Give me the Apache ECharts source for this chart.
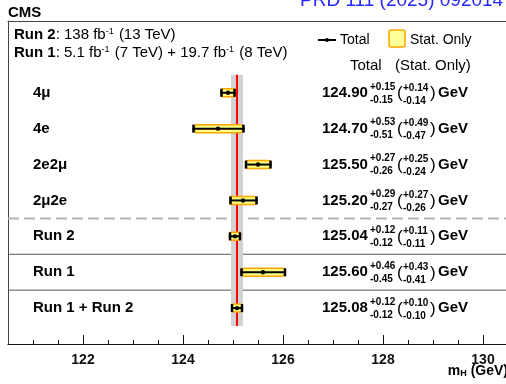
<!DOCTYPE html>
<html>
<head>
<meta charset="utf-8">
<script src="https://cdn.jsdelivr.net/npm/echarts@6/dist/echarts.min.js"></script>
<style>
  html, body { margin: 0; padding: 0; background: #fff; }
  #chart { width: 506px; height: 384px; }
</style>
</head>
<body>
<div id="chart"></div>
<script>
// Higgs boson mass measurements in the H -> ZZ -> 4l channel
const categories = ['4\u03bc', '4e', '2e2\u03bc', '2\u03bc2e', 'Run 2', 'Run 1', 'Run 1 + Run 2'];
const rowPos     = [7, 6, 5, 4, 3, 2, 1];
const central    = [124.90, 124.70, 125.50, 125.20, 125.04, 125.60, 125.08];
const totalUp    = [0.15, 0.53, 0.27, 0.29, 0.12, 0.46, 0.12];
const totalDown  = [0.15, 0.51, 0.26, 0.27, 0.12, 0.45, 0.12];
const statUp     = [0.14, 0.49, 0.25, 0.27, 0.11, 0.43, 0.10];
const statDown   = [0.14, 0.47, 0.24, 0.26, 0.11, 0.41, 0.10];
// row boundaries (index of the first row below the line): dashed after the
// channels, solid between the run summaries
const separatorRows  = [4, 5, 6];
const separatorKinds = ['dashed', 'solid', 'solid'];
const majorTicks = [122, 124, 126, 128, 130];
const minorTicks = [121, 121.5, 122, 122.5, 123, 123.5, 124, 124.5, 125, 125.5,
                    126, 126.5, 127, 127.5, 128, 128.5, 129, 129.5, 130];
const combinedIndex = 6;

const X_MIN = 120.5, X_MAX = 130.46;
const FONT = 'Liberation Sans, Arial, Helvetica, sans-serif';

const chart = echarts.init(document.getElementById('chart'), null, { renderer: 'canvas' });

const rowData = categories.map((c, i) => [central[i], rowPos[i], statDown[i], statUp[i], totalDown[i], totalUp[i], i]);
const sepData = separatorRows.map((r, k) => [(rowPos[r - 1] + rowPos[r]) / 2, k]);

function renderSeparator(params, api) {
  const y = api.value(0);
  const k = api.value(1);
  const p0 = api.coord([X_MIN, y]);
  const p1 = api.coord([X_MAX, y]);
  const dashed = separatorKinds[k] === 'dashed';
  return {
    type: 'line',
    shape: { x1: p0[0], y1: p0[1], x2: p1[0], y2: p1[1] },
    style: dashed
      ? { stroke: '#b4b4b4', lineWidth: 2, lineDash: [11, 5] }
      : { stroke: '#555', lineWidth: 1 }
  };
}

function renderBand(params, api) {
  const c = api.value(0), dn = api.value(1), up = api.value(2);
  const yTop = Math.max(...rowPos) + 0.5, yBot = Math.min(...rowPos) - 0.5;
  const a = api.coord([c - dn, yTop]);
  const b = api.coord([c + up, yBot]);
  const m0 = api.coord([c, yTop]);
  const m1 = api.coord([c, yBot]);
  return {
    type: 'group',
    children: [
      { type: 'rect', shape: { x: a[0], y: a[1], width: b[0] - a[0], height: b[1] - a[1] },
        style: { fill: '#d2d2d2' } },
      { type: 'line', shape: { x1: m0[0], y1: m0[1], x2: m1[0], y2: m1[1] },
        style: { stroke: '#ff0000', lineWidth: 2 } }
    ]
  };
}

function renderBar(params, api) {
  const c = api.value(0), y = api.value(1);
  const sd = api.value(2), su = api.value(3), td = api.value(4), tu = api.value(5);
  const pc = api.coord([c, y]);
  const s0 = api.coord([c - sd, y])[0], s1 = api.coord([c + su, y])[0];
  const t0 = api.coord([c - td, y])[0], t1 = api.coord([c + tu, y])[0];
  const h = 8;
  return {
    type: 'group',
    children: [
      { type: 'rect', shape: { x: s0, y: pc[1] - h / 2, width: s1 - s0, height: h, r: 2 },
        style: { fill: '#ffff80', stroke: '#ffa500', lineWidth: 1.5 } },
      { type: 'line', shape: { x1: t0, y1: pc[1], x2: t1, y2: pc[1] },
        style: { stroke: '#000', lineWidth: 2 } },
      { type: 'line', shape: { x1: t0 + 1, y1: pc[1] - 4, x2: t0 + 1, y2: pc[1] + 4 },
        style: { stroke: '#000', lineWidth: 2.5 } },
      { type: 'line', shape: { x1: t1 - 1, y1: pc[1] - 4, x2: t1 - 1, y2: pc[1] + 4 },
        style: { stroke: '#000', lineWidth: 2.5 } },
      { type: 'circle', shape: { cx: pc[0], cy: pc[1], r: 2.2 }, style: { fill: '#000' } }
    ]
  };
}

function txt(x, y, text, font, align) {
  return { type: 'text', x: x, y: y,
    style: { text: text, font: font, fill: '#000', align: align || 'left', verticalAlign: 'middle' } };
}

function renderLabels(params, api) {
  const i = api.value(6);
  const y = api.coord([X_MIN, api.value(1)])[1];
  const left = api.coord([X_MIN, 0])[0];
  const big = 'bold 15px ' + FONT;
  const small = 'bold 10px ' + FONT;
  const paren = '17px ' + FONT;
  return {
    type: 'group',
    children: [
      txt(left + 25, y, categories[i], big),
      txt(322, y, central[i].toFixed(2), big),
      txt(370, y - 6, '+' + totalUp[i].toFixed(2), small),
      txt(370, y + 7, '-' + totalDown[i].toFixed(2), small),
      txt(397, y + 1, '(', paren),
      txt(403, y - 5, '+' + statUp[i].toFixed(2), small),
      txt(403, y + 8, '-' + statDown[i].toFixed(2), small),
      txt(430, y + 1, ')', paren),
      txt(438, y, 'GeV', big)
    ]
  };
}

const option = {
  animation: false,
  backgroundColor: '#fff',
  grid: { left: 8, right: 0, top: 21, bottom: 40, show: false },
  xAxis: [
    {
      type: 'value', min: X_MIN, max: X_MAX, position: 'bottom',
      splitLine: { show: false },
      axisLine: { show: true, lineStyle: { color: '#111', width: 1.2 } },
      axisTick: { show: true, inside: true, length: 4, customValues: minorTicks, lineStyle: { color: '#111', width: 1 } },
      axisLabel: { show: true, customValues: majorTicks, margin: 9, color: '#111',
        fontFamily: FONT, fontWeight: 'bold', fontSize: 14, formatter: v => String(v) }
    },
    {
      type: 'value', min: X_MIN, max: X_MAX, position: 'bottom',
      splitLine: { show: false },
      axisLine: { show: false },
      axisTick: { show: true, inside: true, length: 9, customValues: majorTicks, lineStyle: { color: '#111', width: 1 } },
      axisLabel: { show: false }
    },
    {
      // upper frame edge
      type: 'value', min: X_MIN, max: X_MAX, position: 'top',
      splitLine: { show: false },
      axisLine: { show: true, lineStyle: { color: '#444', width: 1 } },
      axisTick: { show: false },
      axisLabel: { show: false }
    }
  ],
  yAxis: {
    type: 'value', min: 0, max: 9, position: 'left',
    splitLine: { show: false },
    axisLine: { show: true, lineStyle: { color: '#444', width: 1 } },
    axisTick: { show: false },
    axisLabel: { show: false }
  },
  series: [
    { type: 'custom', name: 'separators', renderItem: renderSeparator, data: sepData, z: 1, silent: true },
    { type: 'custom', name: 'combined', renderItem: renderBand,
      data: [[central[combinedIndex], totalDown[combinedIndex], totalUp[combinedIndex], rowPos[combinedIndex]]], z: 2, silent: true },
    { type: 'custom', name: 'measurements', renderItem: renderBar, data: rowData, z: 3, silent: true },
    { type: 'custom', name: 'labels', renderItem: renderLabels, data: rowData, z: 4, silent: true, clip: false }
  ],
  graphic: [
    { type: 'text', left: 8, top: 5, style: { text: 'CMS', font: 'bold 15px ' + FONT, fill: '#000' } },
    { type: 'text', x: 300, y: 1, style: { text: 'PRD 111 (2025) 092014', font: '19px ' + FONT, fill: '#2626ff', verticalAlign: 'middle' } },
    { type: 'text', x: 14, y: 35, style: {
        text: '{b|Run 2}{n|: 138 fb}{s|-1}{n| (13 TeV)}', verticalAlign: 'middle',
        rich: {
          b: { font: 'bold 15px ' + FONT, fill: '#000' },
          n: { font: '15px ' + FONT, fill: '#000' },
          s: { font: '9px ' + FONT, fill: '#000', verticalAlign: 'top', padding: [0, 1, 6, 0] }
        } } },
    { type: 'text', x: 14, y: 53, style: {
        text: '{b|Run 1}{n|: 5.1 fb}{s|-1}{n| (7 TeV) + 19.7 fb}{s|-1}{n| (8 TeV)}', verticalAlign: 'middle',
        rich: {
          b: { font: 'bold 15px ' + FONT, fill: '#000' },
          n: { font: '15px ' + FONT, fill: '#000' },
          s: { font: '9px ' + FONT, fill: '#000', verticalAlign: 'top', padding: [0, 1, 6, 0] }
        } } },
    // legend
    { type: 'line', shape: { x1: 318, y1: 40, x2: 336, y2: 40 }, style: { stroke: '#000', lineWidth: 2 } },
    { type: 'circle', shape: { cx: 327, cy: 40, r: 2 }, style: { fill: '#000' } },
    { type: 'text', x: 340, y: 40, style: { text: 'Total', font: '14px ' + FONT, fill: '#000', verticalAlign: 'middle' } },
    { type: 'rect', shape: { x: 389, y: 30, width: 16, height: 17, r: 2 }, style: { fill: '#ffff99', stroke: '#ffa500', lineWidth: 1.5 } },
    { type: 'text', x: 410, y: 40, style: { text: 'Stat. Only', font: '14px ' + FONT, fill: '#000', verticalAlign: 'middle' } },
    { type: 'text', x: 350, y: 66, style: { text: 'Total', font: '15px ' + FONT, fill: '#000', verticalAlign: 'middle' } },
    { type: 'text', x: 395, y: 66, style: { text: '(Stat. Only)', font: '15px ' + FONT, fill: '#000', verticalAlign: 'middle' } },
    // axis title
    { type: 'text', x: 508, y: 371, style: {
        text: '{m|m}{h|H}{g| (GeV)}', align: 'right', verticalAlign: 'middle',
        rich: {
          m: { font: 'bold 14px ' + FONT, fill: '#000' },
          h: { font: 'bold 9px ' + FONT, fill: '#000', verticalAlign: 'bottom', padding: [6, 0, 0, 0] },
          g: { font: 'bold 14px ' + FONT, fill: '#000' }
        } } }
  ]
};

chart.setOption(option);
</script>
</body>
</html>
